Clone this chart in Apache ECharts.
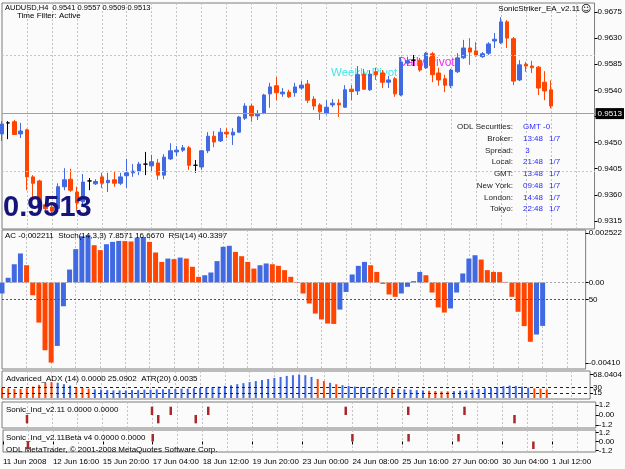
<!DOCTYPE html>
<html><head><meta charset="utf-8">
<script src="https://cdn.jsdelivr.net/npm/echarts@6/dist/echarts.min.js"></script>
<style>html,body{margin:0;padding:0;background:#fbfbfb}#c{width:625px;height:469px}</style>
</head><body><div id="c"></div>
<script>
// ---------------- data ----------------
const symbolName = 'AUDUSD,H4';
const timeLabels = ['11 Jun 2008','12 Jun 16:00','15 Jun 20:00','17 Jun 04:00','18 Jun 12:00','19 Jun 20:00','23 Jun 00:00','24 Jun 08:00','25 Jun 16:00','27 Jun 00:00','30 Jun 04:00','1 Jul 12:00'];
const barsPerLabel = 8;
const barsPerGrid = 4;
const emptyBarsRight = 7;

const openP = [0.9465,0.9484,0.9486,0.9465,0.9472,0.9391,0.9384,0.9343,0.9339,0.9337,
 0.9374,0.9387,0.9365,0.9348,0.9384,0.9379,0.9391,0.9381,0.9386,0.9380,
 0.9393,0.9398,0.9401,0.9413,0.9410,0.9415,0.9394,0.9422,0.9434,0.9437,
 0.9441,0.9411,0.9408,0.9436,0.9461,0.9453,0.9468,0.9463,0.9468,0.9492,
 0.9513,0.9496,0.9501,0.9534,0.9548,0.9534,0.9537,0.9536,0.9544,0.9551,
 0.9525,0.9515,0.9501,0.9515,0.9518,0.9511,0.9542,0.9539,0.9568,0.9541,
 0.9572,0.9570,0.9554,0.9560,0.9532,0.9587,0.9592,0.9592,0.9579,0.9603,
 0.9570,0.9560,0.9548,0.9572,0.9596,0.9613,0.9608,0.9598,0.9604,0.9625,
 0.9622,0.9658,0.9629,0.9558,0.9585,0.9582,0.9580,0.9554,0.9541];
const highP = [0.9487,0.9487,0.9489,0.9484,0.9474,0.9394,0.9386,0.9348,0.9343,0.9380,
 0.9406,0.9405,0.9374,0.9396,0.9389,0.9387,0.9398,0.9398,0.9401,0.9398,
 0.9422,0.9413,0.9417,0.9434,0.9429,0.9422,0.9430,0.9449,0.9444,0.9446,
 0.9444,0.9420,0.9437,0.9468,0.9470,0.9475,0.9475,0.9475,0.9496,0.9518,
 0.9517,0.9506,0.9534,0.9553,0.9563,0.9544,0.9541,0.9553,0.9556,0.9558,
 0.9530,0.9518,0.9523,0.9525,0.9525,0.9549,0.9549,0.9582,0.9577,0.9575,
 0.9579,0.9575,0.9565,0.9563,0.9596,0.9598,0.9601,0.9596,0.9606,0.9606,
 0.9579,0.9567,0.9577,0.9604,0.9627,0.9630,0.9623,0.9606,0.9623,0.9639,
 0.9666,0.9661,0.9632,0.9592,0.9589,0.9591,0.9582,0.9573,0.9557];
const lowP = [0.9453,0.9456,0.9463,0.9458,0.9368,0.9351,0.9327,0.9331,0.9327,0.9332,
 0.9368,0.9365,0.9334,0.9343,0.9368,0.9377,0.9372,0.9365,0.9374,0.9377,
 0.9372,0.9391,0.9394,0.9394,0.9401,0.9386,0.9387,0.9420,0.9427,0.9434,
 0.9403,0.9398,0.9403,0.9432,0.9442,0.9451,0.9458,0.9446,0.9467,0.9489,
 0.9486,0.9489,0.9499,0.9510,0.9523,0.9529,0.9527,0.9529,0.9541,0.9518,
 0.9506,0.9489,0.9498,0.9511,0.9494,0.9510,0.9523,0.9532,0.9541,0.9539,
 0.9558,0.9544,0.9544,0.9529,0.9530,0.9582,0.9582,0.9572,0.9577,0.9554,
 0.9548,0.9537,0.9544,0.9570,0.9594,0.9584,0.9598,0.9596,0.9601,0.9613,
 0.9620,0.9613,0.9549,0.9556,0.9572,0.9570,0.9532,0.9523,0.9509];
const closeP = [0.9482,0.9484,0.9464,0.9470,0.9391,0.9380,0.9337,0.9336,0.9332,0.9374,
 0.9386,0.9368,0.9346,0.9382,0.9384,0.9383,0.9380,0.9385,0.9380,0.9391,
 0.9398,0.9401,0.9413,0.9413,0.9417,0.9394,0.9425,0.9436,0.9437,0.9441,
 0.9411,0.9411,0.9436,0.9461,0.9451,0.9468,0.9465,0.9468,0.9494,0.9513,
 0.9496,0.9499,0.9532,0.9546,0.9536,0.9537,0.9529,0.9546,0.9549,0.9523,
 0.9513,0.9503,0.9511,0.9518,0.9515,0.9541,0.9538,0.9567,0.9542,0.9568,
 0.9567,0.9554,0.9558,0.9534,0.9589,0.9591,0.9592,0.9575,0.9604,0.9567,
 0.9558,0.9549,0.9575,0.9596,0.9613,0.9606,0.9601,0.9603,0.9620,0.9628,
 0.9658,0.9630,0.9556,0.9584,0.9582,0.9579,0.9544,0.9539,0.9513];
const priceTicks = [0.9315,0.9360,0.9405,0.9450,0.9495,0.9540,0.9585,0.9630,0.9675];
const bidPrice = 0.9513;

const acValues = [-0.00056,0.00024,0.00093,0.00148,0.00088,-0.00065,-0.00204,-0.00345,-0.00408,-0.00323,
 -0.00121,0.00066,0.00170,0.00236,0.00241,0.00190,0.00165,0.00195,0.00207,0.00212,
 0.00211,0.00209,0.00228,0.00231,0.00207,0.00153,0.00105,0.00122,0.00119,0.00127,
 0.00122,0.00080,0.00029,0.00037,0.00051,0.00109,0.00182,0.00187,0.00156,0.00134,
 0.00105,0.00071,0.00088,0.00097,0.00093,0.00085,0.00063,0.00029,0.00003,-0.00056,
 -0.00107,-0.00158,-0.00188,-0.00209,-0.00211,-0.00138,-0.00048,0.00041,0.00085,0.00105,
 0.00088,0.00054,-0.00007,-0.00061,-0.00073,-0.00056,-0.00022,0.00007,0.00054,0.00037,
 -0.00051,-0.00127,-0.00153,-0.00132,-0.00051,0.00046,0.00122,0.00139,0.00117,0.00063,
 0.00054,0.00053,0.00003,-0.00073,-0.00149,-0.00222,-0.00302,-0.00265,-0.002211];
const acTickValues = [0.002522, 0, -0.0041];
const acTickLabels = ['0.002522', '0.00', '-0.00410'];
const stochLevel = 50;

const adxValues = [29,28,26,26,28,33,38,44,46,44,
 40,36,32,29,27,25,24,23,22,22,
 22,23,23,24,24,25,25,26,26,27,
 27,28,29,30,31,33,35,37,40,43,
 46,49,52,55,58,61,64,66,68.0404,66,
 61,55,49,44,40,37,35,33,32,31,
 30,29,28,27,26,25,24,23,22,21,
 20,19,19,20,21,22,24,26,28,30,
 32,34,36,35,33,30,28,27,25.0902];
const adxBearIdx = [0,1,2,3,4,5,6,7,8,12,13,14,51,52,54,63,69,70,71,72,86,87,88];
const adxLevels = [30, 15];
const adxTickValues = [68.0404, 30, 15, 0];
const adxTickLabels = ['68.0404', '30', '15', '0.00'];

const sonicUpIdx = [24,27,33,55,65,74];
const sonicDownIdx = [4,25,31,82];
const betaUpIdx = [24,56,65,73];
const betaDownIdx = [4,85];
const sonicTickValues = [1.2, 0, -1.2];
const sonicTickLabels = ['1.2', '0.00', '-1.2'];

const infoRows = [
 ['ODL Securities:', 'GMT -0', ''],
 ['Broker:', '13:48', '1/7'],
 ['Spread:', ' 3', ''],
 ['Local:', '21:48', '1/7'],
 ['GMT:', '13:48', '1/7'],
 ['New York:', '09:48', '1/7'],
 ['London:', '14:48', '1/7'],
 ['Tokyo:', '22:48', '1/7']
];

// ---------------- build ----------------
const FONT = 'Liberation Sans';
const UP = '#4169e1', DN = '#ff4500', SONIC = '#a8282a';
const nBars = closeP.length;
const nCats = nBars + emptyBarsRight;
const cats = Array.from({length: nCats}, (_, i) => String(i));

const candleData = closeP.map((c, i) => {
  const item = {value: [openP[i], c, lowP[i], highP[i]]};
  if (openP[i] === c) item.itemStyle = {color:'#000', color0:'#000', borderColor:'#000', borderColor0:'#000', borderColorDoji:'#000'};
  return item;
});
const acData = acValues.map((v, i) => ({value: v, itemStyle: {color: (i === 0 || v > acValues[i-1]) ? UP : DN}}));
const adxData = adxValues.map((v, i) => ({value: v, itemStyle: {color: adxBearIdx.includes(i) ? DN : UP}}));
function sig(up, down) { return Array.from({length: nBars}, (_, i) => up.includes(i) ? 1 : (down.includes(i) ? -1 : 0)); }
const sonicData = sig(sonicUpIdx, sonicDownIdx);
const betaData = sig(betaUpIdx, betaDownIdx);

const grids = [
  {top: 3, height: 226},
  {top: 230, height: 139},
  {top: 371, height: 28},
  {top: 402, height: 26},
  {top: 430, height: 22}
].map(g => Object.assign({left: 2, width: (nCats - 1) * 6.25, show: true, borderColor: '#7d7d7d', borderWidth: 1, backgroundColor: 'transparent'}, g));

function xAxisFor(g, showLabels) {
  return {
    type: 'category', gridIndex: g, data: cats, boundaryGap: false,
    axisLine: {show: false},
    axisTick: showLabels ? {show: true, length: 3, interval: (i) => i % barsPerLabel === 0 && i / barsPerLabel < timeLabels.length, lineStyle: {color: '#000'}} : {show: false},
    axisLabel: showLabels ? {show: true, interval: (i) => i % barsPerLabel === 0 && i / barsPerLabel < timeLabels.length,
      formatter: (v, i) => timeLabels[Math.round(i / barsPerLabel)] || '', align: 'left', fontSize: 8, fontFamily: FONT, color: '#000', margin: 6} : {show: false},
    splitLine: {show: true, interval: (i) => i > 0 && i % barsPerGrid === 0, lineStyle: {color: '#c3c3c3', type: [2, 2], width: 1}}
  };
}
function lookup(vals, labels) {
  return (v) => { let b = 0; for (let k = 1; k < vals.length; k++) if (Math.abs(vals[k] - v) < Math.abs(vals[b] - v)) b = k; return labels[b]; };
}
function yAxisFor(g, min, max, ticks, fmt) {
  return {
    type: 'value', gridIndex: g, position: 'right', min, max,
    splitLine: {show: false}, axisLine: {show: false},
    axisTick: {show: true, length: 3, customValues: ticks, lineStyle: {color: '#000'}},
    axisLabel: {show: true, customValues: ticks, formatter: fmt, fontSize: 8, fontFamily: FONT, color: '#000', margin: 3}
  };
}

const texts = [];
function T(x, y, text, opt, z) {
  texts.push({type: 'text', x, y, silent: true, z: z === undefined ? 100 : z, style: Object.assign({text, fill: '#000', fontSize: 8, fontFamily: FONT, align: 'left', verticalAlign: 'middle'}, opt || {})});
}
const last = nBars - 1;
T(5, 8, `${symbolName}  ${openP[last].toFixed(4)} ${highP[last].toFixed(4)} ${lowP[last].toFixed(4)} ${closeP[last].toFixed(4)}`, {fontSize: 7.5});
T(17, 16, 'Time Filter: Active');
T(580, 9, 'SonicStriker_EA_v2.11', {align: 'right'});
T(586, 9, '\u263A', {align: 'center', fontFamily: 'DejaVu Sans', fontSize: 10});
T(3, 207.5, closeP[last].toFixed(4), {fontSize: 29, fontWeight: 'bold', fill: '#14147a'});
T(331, 73, 'Weekly Pivot', {fontSize: 11.5, fill: '#3ee8ee'}, 0);
T(398, 62.5, 'Daily Pivot', {fontSize: 12, fill: '#ee33ee'}, 0);
infoRows.forEach((r, k) => {
  const y = 127 + k * 11.72;
  T(513, y, r[0], {align: 'right', fill: '#222'});
  T(523, y, r[1], {fill: '#2a2aff'});
  if (r[2]) T(549, y, r[2], {fill: '#2a2aff'});
});
T(5, 236, 'AC -0.002211  Stoch(14,3,3) 7.8571 16.6670  RSI(14) 40.3397');
T(6, 379, 'Advanced_ADX (14) 0.0000 25.0902  ATR(20) 0.0035');
T(6, 409.5, 'Sonic_Ind_v2.11 0.0000 0.0000');
T(6, 437.5, 'Sonic_Ind_v2.11Beta v4 0.0000 0.0000');
T(6, 449.3, 'ODL MetaTrader, \u00A9 2001-2008 MetaQuotes Software Corp.');

const option = {
  animation: false,
  backgroundColor: '#fbfbfb',
  grid: grids,
  xAxis: [xAxisFor(0, false), xAxisFor(1, false), xAxisFor(2, false), xAxisFor(3, false), xAxisFor(4, true)],
  yAxis: [
    yAxisFor(0, 0.930122, 0.96905, priceTicks, (v) => v.toFixed(4)),
    yAxisFor(1, -0.004406, 0.002675, acTickValues, lookup(acTickValues, acTickLabels)),
    yAxisFor(1, 0, 100, [stochLevel], (v) => String(v)),
    yAxisFor(2, -2.895, 78.17, adxTickValues, lookup(adxTickValues, adxTickLabels)),
    yAxisFor(3, -1.56, 1.56, sonicTickValues, lookup(sonicTickValues, sonicTickLabels)),
    yAxisFor(4, -1.4, 1.5333, sonicTickValues, lookup(sonicTickValues, sonicTickLabels))
  ],
  series: [
    {type: 'candlestick', xAxisIndex: 0, yAxisIndex: 0, data: candleData, barWidth: 4, silent: true, z: 3,
     itemStyle: {color: UP, color0: DN, borderColor: UP, borderColor0: DN, borderWidth: 1},
     markLine: {silent: true, symbol: ['none', 'none'], animation: false,
       data: priceTicks.map(v => ({yAxis: v, lineStyle: {color: '#c6c6c6', type: [2, 2], width: 1}, label: {show: false}}))
         .concat([{yAxis: bidPrice, lineStyle: {color: '#a0a0a0', type: 'solid', width: 1},
           label: {show: true, position: 'end', formatter: bidPrice.toFixed(4), color: '#fff', backgroundColor: '#000', padding: [2, 2, 1, 2], fontSize: 8, fontFamily: FONT, distance: 1}}])}},
    {type: 'bar', xAxisIndex: 1, yAxisIndex: 1, data: acData, barWidth: 5, silent: true,
     markLine: {silent: true, symbol: ['none', 'none'], label: {show: false}, data: [{yAxis: 0}], lineStyle: {color: '#a8a8a8', type: [2, 2], width: 1}}},
    {type: 'line', xAxisIndex: 1, yAxisIndex: 2, data: ['-'], silent: true, showSymbol: false,
     markLine: {silent: true, symbol: ['none', 'none'], label: {show: false}, data: [{yAxis: stochLevel}], lineStyle: {color: '#555', type: [2, 2], width: 1}}},
    {type: 'bar', xAxisIndex: 2, yAxisIndex: 3, data: adxData, barWidth: 2, silent: true,
     markLine: {silent: true, symbol: ['none', 'none'], label: {show: false}, data: adxLevels.map(v => ({yAxis: v})), lineStyle: {color: '#222', type: [3, 3], width: 1}}},
    {type: 'bar', xAxisIndex: 3, yAxisIndex: 4, data: sonicData, barWidth: 2.5, silent: true, itemStyle: {color: SONIC}},
    {type: 'bar', xAxisIndex: 4, yAxisIndex: 5, data: betaData, barWidth: 2.5, silent: true, itemStyle: {color: SONIC}}
  ],
  graphic: texts
};
const chart = echarts.init(document.getElementById('c'), null, {renderer: 'canvas', width: 625, height: 469});
chart.setOption(option);
</script>
</body></html>
